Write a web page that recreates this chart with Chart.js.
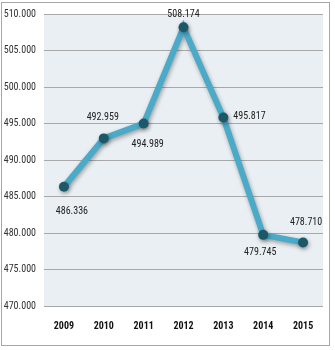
<!DOCTYPE html>
<html>
<head>
<meta charset="utf-8">
<script src="https://cdn.jsdelivr.net/npm/chart.js@4/dist/chart.umd.min.js"></script>
<style>
  html, body { margin: 0; padding: 0; background: #ffffff; }
  #frame { position: absolute; left: 1px; top: 2px; width: 329px; height: 344px; border: 1px solid #a6a6a6; box-sizing: border-box; }
  #wrap { position: absolute; left: 0; top: 0; width: 335px; height: 350px; }
</style>
</head>
<body>
<div id="frame"></div>
<div id="wrap"><canvas id="c" width="335" height="350"></canvas></div>
<script>
const years = ['2009', '2010', '2011', '2012', '2013', '2014', '2015'];
const values = [486336, 492959, 494989, 508174, 495817, 479745, 478710];
const yTicks = [470000, 475000, 480000, 485000, 490000, 495000, 500000, 505000, 510000];

const FONT = "'Liberation Sans Narrow', 'Roboto Condensed', 'Liberation Sans', Arial, sans-serif";

function fmt(v) {
  const s = String(Math.round(v));
  return s.replace(/\B(?=(\d{3})+(?!\d))/g, '.');
}

// shaded plot area behind the grid
const plotBg = {
  id: 'plotBg',
  beforeDraw(chart) {
    const { ctx, chartArea: a } = chart;
    ctx.save();
    ctx.fillStyle = '#e9eff3';
    ctx.fillRect(a.left, a.top, a.right - a.left, a.bottom - a.top);
    ctx.restore();
  }
};

// soft shadow under the line
const lineShadow = {
  id: 'lineShadow',
  beforeDatasetDraw(chart) {
    const ctx = chart.ctx;
    ctx.save();
    ctx.shadowColor = 'rgba(0,0,0,0.35)';
    ctx.shadowBlur = 4;
    ctx.shadowOffsetX = 1;
    ctx.shadowOffsetY = 2;
  },
  afterDatasetDraw(chart) {
    chart.ctx.restore();
  }
};

// value labels placed around each point (offsets in pixels from the point)
const valueLabels = {
  id: 'valueLabels',
  afterDatasetsDraw(chart, args, opts) {
    const ctx = chart.ctx;
    const meta = chart.getDatasetMeta(0);
    ctx.save();
    ctx.font = '10px ' + FONT;
    ctx.fillStyle = '#222222';
    ctx.textBaseline = 'middle';
    meta.data.forEach((pt, i) => {
      const v = chart.data.datasets[0].data[i];
      const [dx, dy, align] = opts.offsets[i];
      ctx.textAlign = align || 'center';
      ctx.fillText(fmt(v), pt.x + dx, pt.y + dy);
    });
    ctx.restore();
  }
};

new Chart(document.getElementById('c'), {
  type: 'line',
  data: {
    labels: years,
    datasets: [{
      data: values,
      borderColor: '#4aaac8',
      borderWidth: 6,
      pointBackgroundColor: '#1c5868',
      pointBorderColor: '#1c5868',
      pointBorderWidth: 0,
      pointRadius: 5,
      tension: 0,
      fill: false
    }]
  },
  options: {
    responsive: false,
    animation: false,
    layout: { padding: { left: 0, right: 12, top: 13, bottom: 0 } },
    plugins: {
      legend: { display: false },
      tooltip: { enabled: false },
      valueLabels: {
        offsets: [[8, 25], [-1, -21], [4, 21], [0, -13], [10, -1, 'left'], [-3, 18], [3, -20]]
      }
    },
    scales: {
      x: {
        offset: true,
        grid: { display: false, drawTicks: false },
        border: { display: false },
        ticks: { color: '#111111', font: { family: FONT, size: 10, weight: 'bold' }, padding: 14, maxRotation: 0 },
        afterFit(s) { s.height = 44; }
      },
      y: {
        min: 470000,
        max: 510000,
        afterBuildTicks(s) { s.ticks = yTicks.map(v => ({ value: v })); },
        grid: { color: '#a8a8a8', lineWidth: 1, drawTicks: false },
        border: { display: false },
        ticks: { color: '#333333', font: { family: FONT, size: 10 }, padding: 8, callback: v => fmt(v) },
        afterFit(s) { s.width = 44; }
      }
    }
  },
  plugins: [plotBg, lineShadow, valueLabels]
});
</script>
</body>
</html>
